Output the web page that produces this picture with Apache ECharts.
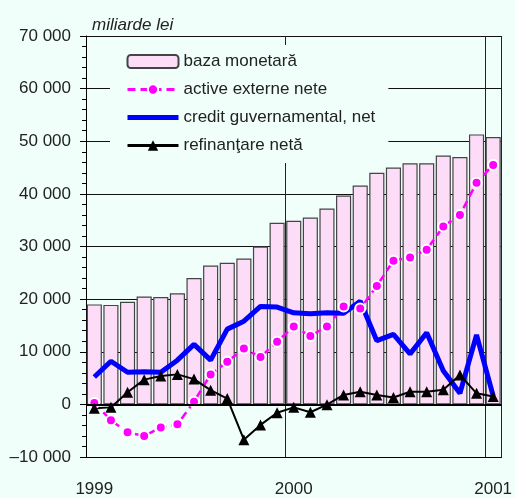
<!DOCTYPE html>
<html>
<head>
<meta charset="utf-8">
<title>baza monetara</title>
<script src="https://cdn.jsdelivr.net/npm/echarts@6/dist/echarts.min.js"></script>
<style>
  html, body { margin: 0; padding: 0; background: #f0fffa; }
  #chart { width: 515px; height: 498px; }
</style>
</head>
<body>
<div id="chart"></div>
<script>
// luni: ian 1999 ... ian 2001
var months = ['1999','','','','','','','','','','','',
              '2000','','','','','','','','','','','',
              '2001'];
var bazaMonetara = [19000,18900,19500,20500,20400,21100,24000,26400,26900,27700,30000,34500,
                    34900,35500,37200,39700,41600,44000,45000,45800,45800,47300,47000,51300,50800];
var activeExterne = [250,-3000,-5300,-6000,-4400,-3800,500,5700,8100,10600,9000,11900,
                     14800,13000,14800,18600,18200,22500,27300,27900,29400,33800,36000,42100,45500];
var creditGuv = [5200,8200,6100,6200,6100,8400,11400,8400,14300,15800,18600,18500,
                 17400,17200,17400,17300,19600,12100,13300,9600,13600,6400,2100,13200,1600];
var refinantare = [-750,-570,2300,4700,5400,5700,4800,2700,1100,-6700,-3900,-1600,
                   -570,-1500,-60,1800,2400,1800,1300,2400,2400,2800,5600,2100,1500];

var FONT = 'Liberation Sans, Arial, sans-serif';
var chart = echarts.init(document.getElementById('chart'));

chart.setOption({
  backgroundColor: '#f0fffa',
  animation: false,
  textStyle: { fontFamily: FONT },
  title: {
    text: 'miliarde lei',
    left: 87, top: 12,
    textStyle: { fontFamily: FONT, fontSize: 17, fontStyle: 'italic', fontWeight: 'normal', color: '#222' }
  },
  legend: {
    orient: 'vertical',
    left: 110, top: 45,
    padding: [8, 13, 9, 15],
    backgroundColor: '#f0fffa',
    itemWidth: 51, itemHeight: 13, itemGap: 11,
    textStyle: { fontFamily: FONT, fontSize: 17, color: '#222' },
    data: [
      { name: 'baza monetară' },
      { name: 'active externe nete', lineStyle: { width: 3 } },
      { name: 'credit guvernamental, net', lineStyle: { width: 5 }, itemStyle: { opacity: 0 } },
      { name: 'refinanţare netă', lineStyle: { width: 3 } }
    ]
  },
  grid: { left: 86, right: 10, top: 36, bottom: 38 },
  xAxis: {
    type: 'category',
    data: months,
    boundaryGap: true,
    axisLine: { onZero: false, lineStyle: { color: '#000', width: 1 } },
    axisTick: { show: false },
    axisLabel: { interval: 0, margin: 24, fontSize: 17, color: '#222', fontFamily: FONT },
    splitLine: {
      show: true,
      interval: function (i) { return i === 12 || i === 24; },
      lineStyle: { color: '#222', width: 1 }
    }
  },
  yAxis: {
    type: 'value',
    min: -10000, max: 70000, interval: 10000,
    axisLine: { show: true, lineStyle: { color: '#000', width: 1 } },
    axisTick: { show: true, length: 6, lineStyle: { color: '#000' } },
    minorTick: { show: true, splitNumber: 5, length: 4, lineStyle: { color: '#000' } },
    axisLabel: {
      margin: 15, fontSize: 17, color: '#222', fontFamily: FONT,
      formatter: function (v) {
        var s = Math.abs(v) >= 1000 ? String(Math.abs(v)).replace(/(\d)(?=(\d{3})+$)/, '$1 ') : String(Math.abs(v));
        return (v < 0 ? '\u2013' : '') + s;
      }
    },
    splitLine: { show: true, lineStyle: { color: '#111', width: 1 } }
  },
  series: [
    {
      name: 'baza monetară',
      type: 'bar',
      data: bazaMonetara,
      barCategoryGap: '9%',
      itemStyle: { color: '#fddcf8', borderColor: '#444', borderWidth: 1.2 },
      markLine: {
        silent: true,
        symbol: 'none',
        label: { show: false },
        lineStyle: { color: '#000', width: 2, type: 'solid' },
        data: [{ yAxis: 0 }]
      }
    },
    {
      name: 'active externe nete',
      type: 'line',
      data: activeExterne,
      symbol: 'circle', symbolSize: 10,
      itemStyle: { color: '#ff00ff', borderColor: '#fff', borderWidth: 2 },
      lineStyle: { color: '#ff00ff', width: 2.5, type: [8, 5] }
    },
    {
      name: 'credit guvernamental, net',
      type: 'line',
      data: creditGuv,
      symbol: 'none',
      itemStyle: { color: '#0000ff' },
      lineStyle: { color: '#0000ff', width: 5 }
    },
    {
      name: 'refinanţare netă',
      type: 'line',
      data: refinantare,
      symbol: 'triangle', symbolSize: 11,
      itemStyle: { color: '#000' },
      lineStyle: { color: '#000', width: 2 }
    }
  ]
});
</script>
</body>
</html>
